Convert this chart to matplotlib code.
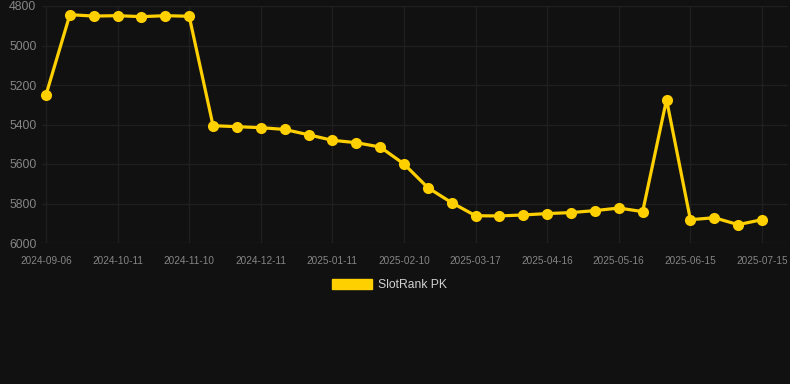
import matplotlib
matplotlib.use("Agg")
import matplotlib.pyplot as plt
from matplotlib.patches import Patch

dates = [
    "2024-09-06", "2024-09-18", "2024-09-30",
    "2024-10-11", "2024-10-21", "2024-10-31",
    "2024-11-10", "2024-11-20", "2024-12-01",
    "2024-12-11", "2024-12-21", "2025-01-01",
    "2025-01-11", "2025-01-21", "2025-01-31",
    "2025-02-10", "2025-02-22", "2025-03-05",
    "2025-03-17", "2025-03-27", "2025-04-06",
    "2025-04-16", "2025-04-26", "2025-05-06",
    "2025-05-16", "2025-05-26", "2025-06-05",
    "2025-06-15", "2025-06-25", "2025-07-05",
    "2025-07-15",
]
ranks = [
    5250, 4844, 4851, 4849, 4854, 4849, 4852,
    5406, 5411, 5416, 5425, 5452, 5480, 5492, 5514,
    5600, 5720, 5796, 5862, 5863, 5858, 5851, 5846, 5836, 5823, 5841,
    5274, 5882, 5872, 5907, 5882,
]
y_ticks = [4800, 5000, 5200, 5400, 5600, 5800, 6000]
series_name = "SlotRank PK"

BG = "#111111"
LINE = "#ffd000"
GRID = "#1f1f1f"
TICK = "#858585"

fig = plt.figure(figsize=(7.9, 3.84), dpi=100, facecolor=BG)
W, H = 790, 384
ax = fig.add_axes([42 / W, 1 - 243 / H, (788 - 42) / W, (243 - 6) / H])
ax.set_facecolor(BG)

x = list(range(len(dates)))
ax.plot(x, ranks, color=LINE, linewidth=2.3, marker="o", markersize=8,
        markeredgewidth=0, clip_on=False, zorder=3)

ax.set_ylim(6000, 4800)
ax.set_yticks(y_ticks)
ax.set_yticklabels([str(v) for v in y_ticks])
sp = 23.87
ax.set_xlim(-4 / sp, len(dates) - 1 + 26 / sp)
tick_idx = list(range(0, len(dates), 3))
ax.set_xticks(tick_idx)
ax.set_xticklabels([dates[i] for i in tick_idx])

for s in ax.spines.values():
    s.set_visible(False)
ax.grid(True, color=GRID, linewidth=1, zorder=0)
ax.tick_params(axis="both", length=0, colors=TICK)
ax.tick_params(axis="x", labelsize=7.2, pad=9)
ax.tick_params(axis="y", labelsize=8.8, pad=4)
for lab in ax.get_xticklabels() + ax.get_yticklabels():
    lab.set_fontfamily("Liberation Sans")

handle = Patch(facecolor=LINE, edgecolor=LINE)
leg = fig.legend([handle], [series_name], loc="center", bbox_to_anchor=(0.4935, 1 - 285 / H),
                 frameon=False, handlelength=3.3, handleheight=0.9, handletextpad=0.5,
                 prop={"family": "Liberation Sans", "size": 8.7})
for t in leg.get_texts():
    t.set_color("#d0d0d0")

fig.savefig("out.png", dpi=100, facecolor=BG)
